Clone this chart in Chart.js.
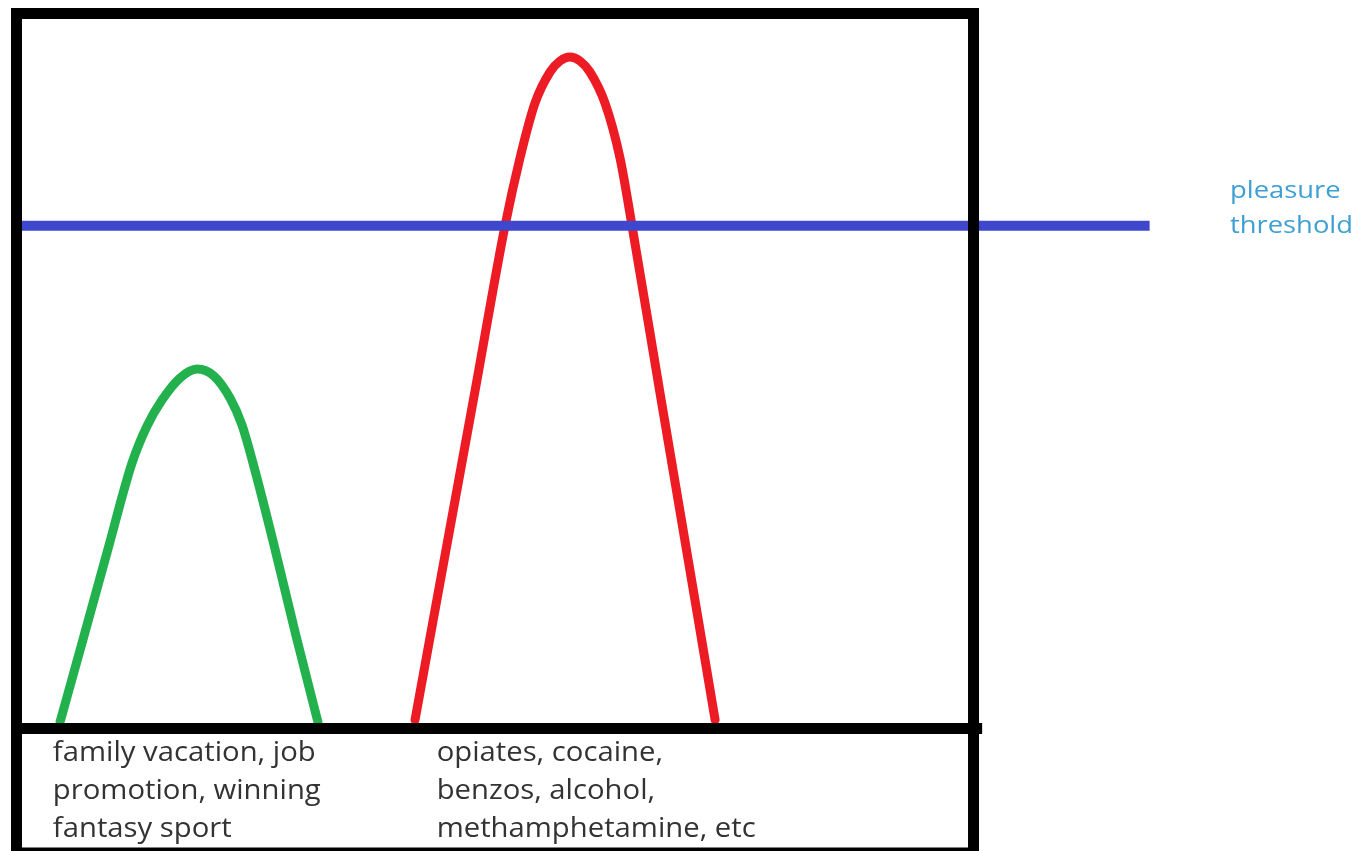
<!DOCTYPE html>
<html>
<head>
<meta charset="utf-8">
<script src="https://cdn.jsdelivr.net/npm/chart.js"></script>
<style>
  html, body { margin: 0; padding: 0; background: #fff; }
  #wrap { width: 1366px; height: 851px; }
</style>
</head>
<body>
<div id="wrap"><canvas id="chart1"></canvas></div>
<script>
// x = time (box runs 0..100), y = pleasure (baseline 0, top of box 100)
var naturalX = [4.55, 7.05, 9.56, 12.07, 13.64, 15.20, 17.08, 18.86, 20.64, 22.31, 23.56, 24.71, 27.01, 29.21, 31.50];
var naturalY = [0.91, 12.94, 25.10, 37.13, 42.31, 45.94, 49.02, 50.28, 49.30, 46.22, 42.45, 37.13, 25.10, 12.94, 0.91];

var drugX = [41.64, 44.78, 47.91, 51.04, 52.61, 54.18, 55.75, 56.79, 57.83, 58.88, 59.92, 61.49, 63.06, 64.32, 67.24, 70.17, 73.00];
var drugY = [1.19, 24.27, 47.20, 70.28, 79.79, 87.48, 91.82, 93.36, 93.92, 93.36, 91.82, 87.48, 79.79, 70.28, 46.92, 23.71, 1.19];

var thresholdX = [0, 118.4];
var thresholdY = [70.3, 70.3];

var boxX = [0, 0, 100, 100, 0];
var boxY = [-17.4, 100, 100, -17.4, -17.4];
var baseX = [0, 100.9];
var baseY = [0, 0];

var naturalLabel = ['family vacation, job', 'promotion, winning', 'fantasy sport'];
var drugLabel = ['opiates, cocaine,', 'benzos, alcohol,', 'methamphetamine, etc'];
var thresholdLabel = ['pleasure', 'threshold'];
var labelX = [3.8, 43.9, 126.8];
var labelY = [-4.6, -4.6, 74.2];

function pts(xs, ys) {
    return xs.map(function(x, i) { return { x: x, y: ys[i] }; });
}

var blocks = [
    { lines: naturalLabel, x: labelX[0], y: labelY[0], font: '500 28px "Open Sans"', color: '#333', stretch: 1.045, lineHeight: 38 },
    { lines: drugLabel, x: labelX[1], y: labelY[1], font: '500 28px "Open Sans"', color: '#333', stretch: 1.045, lineHeight: 38 },
    { lines: thresholdLabel, x: labelX[2], y: labelY[2], font: '24px "Open Sans"', color: '#3d9fd3', stretch: 1.14, lineHeight: 35 }
];

var textPlugin = {
    id: 'sketchText',
    afterDatasetsDraw: function(chart) {
        var c = chart.ctx, xs = chart.scales.x, ys = chart.scales.y;
        blocks.forEach(function(b) {
            c.save();
            c.font = b.font;
            c.fillStyle = b.color;
            c.textBaseline = 'alphabetic';
            c.translate(xs.getPixelForValue(b.x), ys.getPixelForValue(b.y));
            c.scale(b.stretch, 1);
            b.lines.forEach(function(t, i) { c.fillText(t, 0, i * b.lineHeight); });
            c.restore();
        });
    }
};

var ctx = document.getElementById('chart1').getContext('2d');
var chart = new Chart(ctx, {
    type: 'scatter',
    data: {
        datasets: [
            { label: 'box', data: pts(boxX, boxY), showLine: true, borderColor: '#000', borderWidth: 11,
              borderJoinStyle: 'miter', borderCapStyle: 'square', tension: 0, pointRadius: 0 },
            { label: 'baseline', data: pts(baseX, baseY), showLine: true, borderColor: '#000', borderWidth: 11,
              tension: 0, pointRadius: 0 },
            { label: 'pleasure threshold', data: pts(thresholdX, thresholdY), showLine: true, borderColor: '#3f48cc',
              borderWidth: 10, tension: 0, pointRadius: 0 },
            { label: 'natural rewards', data: pts(naturalX, naturalY), showLine: true, borderColor: '#22b14c',
              borderWidth: 9, cubicInterpolationMode: 'monotone', borderCapStyle: 'round', borderJoinStyle: 'round', pointRadius: 0 },
            { label: 'drugs', data: pts(drugX, drugY), showLine: true, borderColor: '#ed1c24',
              borderWidth: 9, cubicInterpolationMode: 'monotone', borderCapStyle: 'round', borderJoinStyle: 'round', pointRadius: 0 }
        ]
    },
    options: {
        responsive: true,
        maintainAspectRatio: false,
        animation: false,
        events: [],
        layout: { padding: 0 },
        plugins: { legend: { display: false }, tooltip: { enabled: false } },
        scales: {
            x: { type: 'linear', min: -1.724, max: 141.01, display: false },
            y: { type: 'linear', min: -17.13, max: 101.89, display: false }
        }
    },
    plugins: [textPlugin]
});
</script>
</body>
</html>
